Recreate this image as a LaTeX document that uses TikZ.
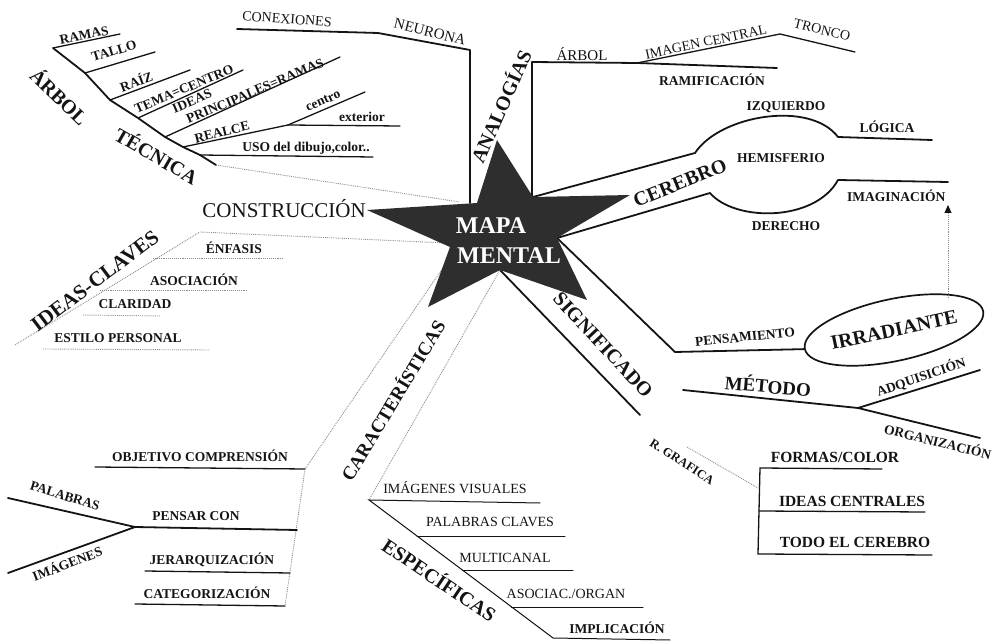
\documentclass[tikz,border=0pt]{standalone}
\usepackage{fontspec}
\setmainfont{Liberation Serif}
\usetikzlibrary{arrows.meta,shapes.geometric,calc}
\definecolor{cInk} {HTML}{141414}
\definecolor{cStar}{HTML}{2E2E2E}
\definecolor{cDot} {HTML}{8C8C8C}
\tikzset{
  lbl/.style  ={font=\bfseries\fontsize{13.5}{13.5}\selectfont,
                inner sep=0pt,text=cInk},
  lblr/.style ={lbl,font=\fontsize{14}{14}\selectfont},
  head/.style ={font=\bfseries\fontsize{20}{20}\selectfont,inner sep=0pt,
                text=cInk},
  stem/.style ={draw=cInk,line width=1.8pt,line join=round,line cap=round},
  uline/.style={draw=cInk,line width=1.3pt,line cap=round},
  faint/.style={draw=cDot,densely dotted,line width=0.9pt},
}
\begin{document}
\begin{tikzpicture}[x=1pt,y=-1pt,
  big/.style={lbl,font=\bfseries\fontsize{15.5}{15.5}\selectfont},
  ttl/.style={font=\bfseries\fontsize{24}{24}\selectfont,text=white,
              inner sep=0pt},
]
\useasboundingbox (0,0) rectangle (1005,644);

% ===== central star (corners) ================================
\coordinate (sT)  at (497,140);
\coordinate (sTR) at (533,197);
\coordinate (sR)  at (630,195);
\coordinate (sRL) at (557,238);
\coordinate (sBR) at (587,300);
\coordinate (sB)  at (500,270);
\coordinate (sBL) at (428,307);
\coordinate (sLL) at (450,247);
\coordinate (sL)  at (367,210);
\coordinate (sTL) at (477,203);

% ===== arbol / tecnica =======================================
\coordinate (a0) at (53,48);
\coordinate (a1) at (85,73);
\coordinate (a2) at (110,100);
\coordinate (a3) at (138,118);
\coordinate (a4) at (165,137);
\coordinate (a5) at (183,147);
\coordinate (a6) at (200,155);
\coordinate (a7) at (216,165);
\coordinate (bRam) at (120,34);
\coordinate (bTal) at (155,52);
\coordinate (bRai) at (190,70);
\coordinate (bTem) at (243,70);
\coordinate (bIde) at (340,57);
\coordinate (bRea) at (288,125);
\coordinate (bCen) at (365,92);
\coordinate (bExt) at (400,126);
\coordinate (bUso) at (373,157);
\coordinate (tecEnd) at (460,202);
\draw[stem] (a0) -- (a1) -- (a2) -- (a3) -- (a4) -- (a5) -- (a6) -- (a7);
\foreach \p/\q in {a0/bRam,a1/bTal,a2/bRai,a3/bTem,a4/bIde,a5/bRea,
                   bRea/bCen,bRea/bExt,a6/bUso}
  \draw[uline] (\p) -- (\q);
\draw[faint] (a7) -- (tecEnd);

% ===== neurona ===============================================
\coordinate (n0) at (237,29);
\coordinate (n1) at (378,33);
\coordinate (n2) at (470,50);
\coordinate (n3) at (470,203);
\draw[stem] (n0) -- (n1) -- (n2) -- (n3);

% ===== analogias =============================================
\coordinate (g0) at (532,197);
\coordinate (g1) at (532,62);
\coordinate (g2) at (637,63);
\coordinate (g3) at (777,68);
\coordinate (g4) at (780,34);
\coordinate (g5) at (855,52);
\draw[stem] (g0) -- (g1) -- (g2) -- (g3);
\draw[uline] (g2) -- (g4) -- (g5);

% ===== cerebro, two hemispheres ==============================
\coordinate (c1) at (695,153);
\coordinate (c2) at (838,137);
\coordinate (c3) at (932,140);
\coordinate (c4) at (710,193);
\coordinate (c5) at (838,180);
\coordinate (c6) at (948,182);
\draw[stem] (sTR) -- (c1) .. controls (720,115) and (810,100) .. (c2) -- (c3);
\draw[stem] (sRL) -- (c4) .. controls (735,222) and (815,222) .. (c5) -- (c6);

% ===== significado / pensamiento irradiante ==================
\node[ellipse,draw=cInk,line width=1.7pt,head,rotate=12,
      minimum width=158pt,minimum height=62pt] (irr) at (894,330) {IRRADIANTE};
\coordinate (sg1) at (640,415);
\coordinate (sg2) at (675,352);
\draw[stem] (sB) -- (sg1);
\draw[stem] (sRL) -- (sg2) -- (irr.west);
\coordinate (irrTop) at (948,298);
\coordinate (imgTip) at (948,205);

% metodo
\coordinate (m0) at (683,390);
\coordinate (m1) at (858,408);
\coordinate (m2) at (980,370);
\coordinate (m3) at (980,438);
\draw[stem] (m0) -- (m1) -- (m2);
\draw[stem] (m1) -- (m3);

% representacion grafica
\coordinate (rg0) at (687,447);
\coordinate (rg1) at (758,488);
\draw[faint] (rg0) -- (rg1);
\coordinate (f0) at (760,468);  \coordinate (f0e) at (882,469);
\coordinate (f1) at (759,511);  \coordinate (f1e) at (925,512);
\coordinate (f2) at (758,554);  \coordinate (f2e) at (932,555);
\draw[uline] (f0e) -- (f0) -- (f2) -- (f2e);
\draw[uline] (f1) -- (f1e);

% ===== ideas-claves ==========================================
\coordinate (k0) at (15,345);
\coordinate (k1) at (200,232);
\coordinate (kEnd) at (447,243);
\draw[faint] (k0) -- (k1) -- (kEnd);
\coordinate (k2) at (153,258);  \coordinate (k2e) at (283,258);
\coordinate (k3) at (100,290);  \coordinate (k3e) at (247,290);
\coordinate (k4) at (83,315);   \coordinate (k4e) at (160,316);
\coordinate (k5) at (43,349);   \coordinate (k5e) at (210,350);
\foreach \i in {2,...,5}
  \draw[faint] (k\i) -- (k\i e);

% ===== caracteristicas =======================================
\coordinate (cl0) at (447,262);
\coordinate (cl1) at (305,469);
\coordinate (cl2) at (285,606);
\draw[faint] (cl0) -- (cl1) -- (cl2);
\coordinate (ob0) at (95,467);
\coordinate (pc)  at (135,527);
\coordinate (pcE) at (297,530);
\coordinate (pal) at (8,498);
\coordinate (img) at (8,573);
\coordinate (jq0) at (145,571);
\coordinate (jqE) at (290,573);
\coordinate (ct0) at (135,604);
\draw[uline] (ob0) -- (cl1);
\draw[stem] (pc) -- (pcE);
\draw[stem] (pal) -- (pc) -- (img);
\draw[uline] (jq0) -- (jqE);
\draw[uline] (ct0) -- (cl2);

% especificas
\coordinate (cr1) at (369,500);
\coordinate (e5)  at (553,638);
\coordinate (e5e) at (670,640);
\coordinate (ivE) at (540,503);
\draw[faint] (sB) -- (cr1);
\draw[uline,line width=1pt] (ivE) -- (cr1) -- (e5) -- (e5e);
\foreach \yy/\xe [count=\i] in {536/565,570/573,607/643}{
  \pgfmathsetmacro\xs{369+(\yy-500)/0.75}
  \coordinate (u\i) at (\xs,\yy);
  \coordinate (u\i e) at (\xe,\yy);
  \draw[uline,line width=1pt] (u\i) -- (u\i e);
}

% ===== star on top ===========================================
\fill[cStar] (sT) -- (sTR) -- (sR) -- (sRL) -- (sBR) -- (sB) -- (sBL)
  -- (sLL) -- (sL) -- (sTL) -- cycle;
\node[ttl] (mapa)   at (491,226) {MAPA};
\node[ttl] (mental) at (509,256) {MENTAL};

% ===== labels ================================================
\node[font=\fontsize{21}{21}\selectfont,text=cInk,inner sep=0pt,anchor=east]
  (constr) at (366,209) {CONSTRUCCIÓN};

\node[head,rotate=-44] (arbol)   at (60,96)   {ÁRBOL};
\node[head,rotate=-30] (tecnica) at (157,155) {TÉCNICA};
\node[lbl,rotate=11] (ramas)  at (84,35)   {RAMAS};
\node[lbl,rotate=17] (tallo)  at (114,51)  {TALLO};
\node[lbl,rotate=20] (raiz)   at (136,81)  {RAÍZ};
\node[lbl,rotate=23] (tema)   at (184,89)  {TEMA=CENTRO};
\node[lbl,rotate=23] (ideas)  at (192,101) {IDEAS};
\node[lbl,rotate=23] (princ)  at (255,91)  {PRINCIPALES=RAMAS};
\node[lbl,rotate=14] (realce) at (222,132) {REALCE};
\node[lbl,rotate=24] (centro) at (323,101) {centro};
\node[lbl]           (exter)  at (362,117) {exterior};
\node[lbl]           (uso)    at (306,148) {USO del dibujo,color..};

\node[lblr,rotate=-4]  (conex) at (287,19) {CONEXIONES};
\node[lblr,font=\fontsize{15}{15}\selectfont,rotate=-14]
  (neur) at (430,32) {NEURONA};

\node[head,rotate=66] (analog) at (500,106) {ANALOGÍAS};
\node[lblr,font=\fontsize{15}{15}\selectfont] (arbolB) at (582,54) {ÁRBOL};
\node[lblr,rotate=12]  (imgc)   at (706,42) {IMAGEN CENTRAL};
\node[lblr,rotate=-14] (tronco) at (822,30) {TRONCO};
\node[lbl]             (ramif)  at (712,80) {RAMIFICACIÓN};

\node[head,rotate=22] (cerebro) at (680,183) {CEREBRO};
\node[lbl] (izq)    at (786,107) {IZQUIERDO};
\node[lbl] (hemis)  at (781,158) {HEMISFERIO};
\node[lbl] (logica) at (887,127) {LÓGICA};
\node[lbl] (dere)   at (786,226) {DERECHO};
\node[lbl,anchor=west] (imagin) at (847,196) {IMAGINACIÓN};
\draw[faint,-{Triangle[length=8pt,width=7pt,color=cInk]}]
  (irrTop) -- (imgTip);

\node[head,rotate=-47] (signif) at (603,345) {SIGNIFICADO};
\node[lbl,rotate=6]    (pens)   at (745,337) {PENSAMIENTO};
\node[head,font=\bfseries\fontsize{19}{19}\selectfont,rotate=-5]
  (metodo) at (768,385) {MÉTODO};
\node[lbl,rotate=19]  (adq) at (921,377) {ADQUISICIÓN};
\node[lbl,rotate=-14] (org) at (938,441) {ORGANIZACIÓN};
\node[lbl,font=\bfseries\fontsize{12.5}{12.5}\selectfont,rotate=-33]
  (rgraf) at (682,462) {R. GRAFICA};
\node[big] (formas) at (835,457) {FORMAS/COLOR};
\node[big] (ideasc) at (852,501) {IDEAS CENTRALES};
\node[big] (todo)   at (855,542) {TODO EL CEREBRO};

\node[head,font=\bfseries\fontsize{21}{21}\selectfont,rotate=37]
  (iclaves) at (95,281) {IDEAS-CLAVES};
\node[lbl] (enfasis) at (234,248) {ÉNFASIS};
\node[lbl] (asoc)    at (194,280) {ASOCIACIÓN};
\node[lbl] (clar)    at (135,304) {CLARIDAD};
\node[lbl] (estilo)  at (118,338) {ESTILO PERSONAL};

\node[head,font=\bfseries\fontsize{19}{19}\selectfont,rotate=59]
  (caract) at (392,400) {CARACTERÍSTICAS};
\node[lbl] (objet)  at (200,456) {OBJETIVO COMPRENSIÓN};
\node[lbl] (pensar) at (196,516) {PENSAR CON};
\node[lbl] (jerar)  at (212,560) {JERARQUIZACIÓN};
\node[lbl] (categ)  at (207,593) {CATEGORIZACIÓN};
\node[lbl,rotate=-17] (palab)  at (65,496) {PALABRAS};
\node[lbl,rotate=21]  (imagen) at (67,563) {IMÁGENES};

\node[head,rotate=-34] (especif) at (440,579) {ESPECÍFICAS};
\node[lblr] (imvis)  at (455,488) {IMÁGENES VISUALES};
\node[lblr] (palcl)  at (490,522) {PALABRAS CLAVES};
\node[lblr] (multi)  at (505,558) {MULTICANAL};
\node[lblr] (asorg)  at (566,594) {ASOCIAC./ORGAN};
\node[lbl]  (implic) at (617,628) {IMPLICACIÓN};
\end{tikzpicture}
\end{document}
